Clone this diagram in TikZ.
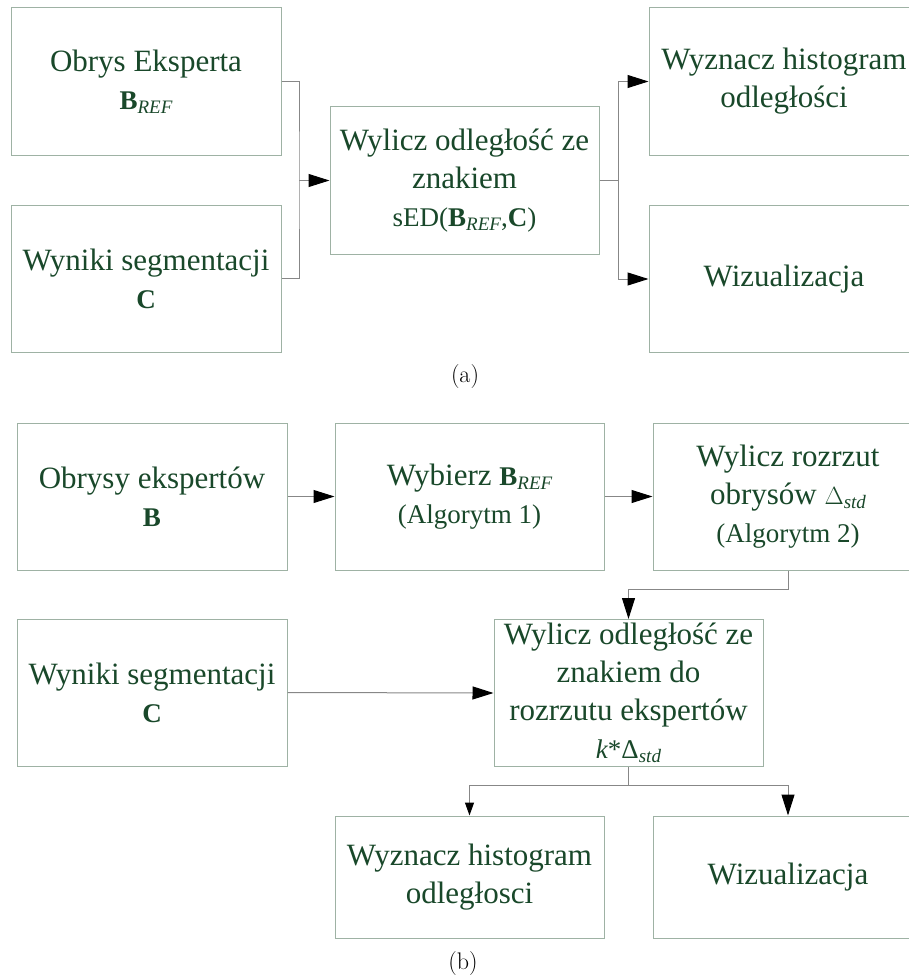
\documentclass[tikz,border=0pt]{standalone}
\usepackage{fontspec}
\newfontfamily\tnr{Liberation Serif}
\usetikzlibrary{arrows.meta}
\definecolor{txtc}{RGB}{25,72,42}
\definecolor{boxc}{RGB}{158,178,164}
\definecolor{linec}{RGB}{135,135,135}
\newcommand{\sm}[1]{{\fontsize{27}{38}\selectfont #1}}
\newcommand{\sbx}[1]{\raisebox{-0.3ex}{\fontsize{19}{19}\selectfont\itshape #1}}
\begin{document}
\begin{tikzpicture}[x=1pt,y=-1pt,
  box/.style={draw=boxc, line width=1pt, fill=white, minimum width=270pt,
    minimum height=147pt, inner sep=0pt, align=center, text=txtc,
    font=\tnr\fontsize{31}{38}\selectfont},
  lowbox/.style={box, minimum height=122pt},
  lbl/.style={font=\fontsize{24}{28}\selectfont, inner sep=0pt},
  conn/.style={draw=linec, line width=1pt},
  arr/.style={conn, -{Triangle[length=21pt,width=13pt,black]}},
  arrsm/.style={conn, -{Triangle[length=13pt,width=9pt,black]}}]
\useasboundingbox (0,0) rectangle (909,979);
\clip (0,0) rectangle (909,979);
% ---- (a) ----
\node[box] (a1) at (146,81.5) {Obrys Eksperta\\\sm{\bfseries B}\sbx{REF}};
\node[box] (a2) at (146,278.5) {Wyniki segmentacji\\\sm{\bfseries C}};
\node[box, minimum width=269pt] (m) at (464.5,180.5) {Wylicz odległość ze\\znakiem\\\sm{sED(\textbf{B}}\sbx{REF}\sm{,\textbf{C})}};
\node[box] (r1) at (784,81.5) {Wyznacz histogram\\odległości};
\node[box] (r2) at (784,279) {Wizualizacja};
\coordinate (ja) at (299,180.5);
\coordinate (jb) at (618,180.5);
\draw[conn] (a1.east) -| (ja) |- (a2.east);
\draw[arr] (ja) -- (m.west);
\draw[conn] (m.east) -- (jb);
\draw[arr] (jb) |- (r1.west);
\draw[arr] (jb) |- (r2.west);
\node[lbl] (la) at (465,377) {(a)};
% ---- (b) ----
\node[box] (b1) at (152,496.5) {Obrysy ekspertów\\\sm{\bfseries B}};
\node[box, minimum width=269pt] (b2) at (469.5,496.5) {Wybierz \sm{\bfseries B}\sbx{REF}\\\sm{(Algorytm 1)}};
\node[box] (b3) at (788,496.5) {Wylicz rozrzut\\obrysów \sm{$\Delta$}\sbx{std}\\\sm{(Algorytm 2)}};
\node[box] (b4) at (152,692.5) {Wyniki segmentacji\\\sm{\bfseries C}};
\node[box, minimum width=269pt] (b5) at (628.5,693) {Wylicz odległość ze\\znakiem do\\rozrzutu ekspertów\\\sm{\itshape k\upshape*Δ}\sbx{std}};
\node[lowbox, minimum width=269pt] (b6) at (469.5,877) {Wyznacz histogram\\odległosci};
\node[lowbox] (b7) at (788,877) {Wizualizacja};
\coordinate (k1) at (788,589);
\coordinate (k2) at (628.5,785);
\draw[arr] (b1.east) -- (b2.west);
\draw[arr] (b2.east) -- (b3.west);
\draw[arr] (b3.south) -- (k1) -| (b5.north);
\draw[arr] (b4.east) -- (b5.west);
\draw[conn] (b5.south) -- (k2);
\draw[arrsm] (k2) -| (b6.north);
\draw[arr] (k2) -| (b7.north);
\node[lbl] (lb) at (463,963) {(b)};
\end{tikzpicture}
\end{document}
